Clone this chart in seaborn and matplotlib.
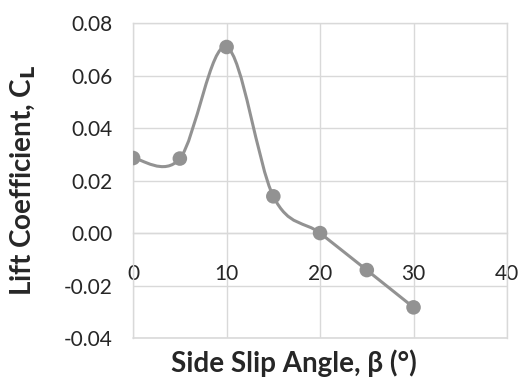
import numpy as np
import pandas as pd
import seaborn as sns
import matplotlib
matplotlib.use("Agg")
import matplotlib.pyplot as plt
from matplotlib.path import Path
from matplotlib.patches import PathPatch

# data
beta = [0, 5, 10, 15, 20, 25, 30]
cl = [0.0286, 0.0284, 0.0709, 0.0140, 0.0000, -0.0141, -0.0283]

x_ticks = [0, 10, 20, 30, 40]
y_ticks = [-0.04, -0.02, 0.00, 0.02, 0.04, 0.06, 0.08]

sns.set_style("white")
plt.rcParams['font.family'] = ['Lato', 'DejaVu Sans']

line_col = '#929292'
grid_col = '#d9d9d9'
text_col = '#262626'

df = pd.DataFrame({'beta': beta, 'cl': cl})

fig = plt.figure(figsize=(5.2, 3.79), dpi=100)
ax = fig.add_axes([0.256, 0.108, 0.719, 0.831])

# smoothed line like excel (catmull-rom bezier segments)
pts = np.column_stack([beta, cl])
verts = [pts[0]]
codes = [Path.MOVETO]
n = len(pts)
for i in range(n - 1):
    p0 = pts[i - 1] if i > 0 else pts[i]
    p1 = pts[i]
    p2 = pts[i + 1]
    p3 = pts[i + 2] if i + 2 < n else pts[i + 1]
    verts += [p1 + (p2 - p0) / 6, p2 - (p3 - p1) / 6, p2]
    codes += [Path.CURVE4] * 3
ax.add_patch(PathPatch(Path(verts, codes), fill=False, edgecolor=line_col, lw=2.2, zorder=3))

sns.scatterplot(data=df, x='beta', y='cl', ax=ax, color=line_col, s=110,
                edgecolor='none', zorder=4, legend=False)

ax.set_xlim(0, 40)
ax.set_ylim(-0.04, 0.08)
ax.set_xticks(x_ticks)
ax.set_yticks(y_ticks)
ax.set_yticklabels(['%.2f' % v for v in y_ticks])
ax.grid(True, color=grid_col, lw=1)
ax.set_axisbelow(True)

for s in ['left', 'right', 'top', 'bottom']:
    ax.spines[s].set_color(grid_col)
    ax.spines[s].set_linewidth(1)
ax.spines['bottom'].set_position(('data', 0))
ax.axhline(-0.04, color=grid_col, lw=1.2, clip_on=False, zorder=1)

ax.tick_params(axis='both', length=0, labelsize=15, colors=text_col)
ax.tick_params(axis='x', pad=22)
ax.tick_params(axis='y', pad=15)

ax.set_xlabel('Side Slip Angle, β (°)', fontsize=20, fontweight='bold', color=text_col)
ax.xaxis.set_label_coords(0.43, -0.035)
ax.xaxis.label.set_va('top')
ax.set_ylabel('Lift Coefficient, C$_\\mathbf{L}$', fontsize=20, fontweight='bold', color=text_col)
ax.yaxis.set_label_coords(-0.295, 0.5)
ax.yaxis.label.set_va('center')

fig.savefig('out.png', dpi=100)
